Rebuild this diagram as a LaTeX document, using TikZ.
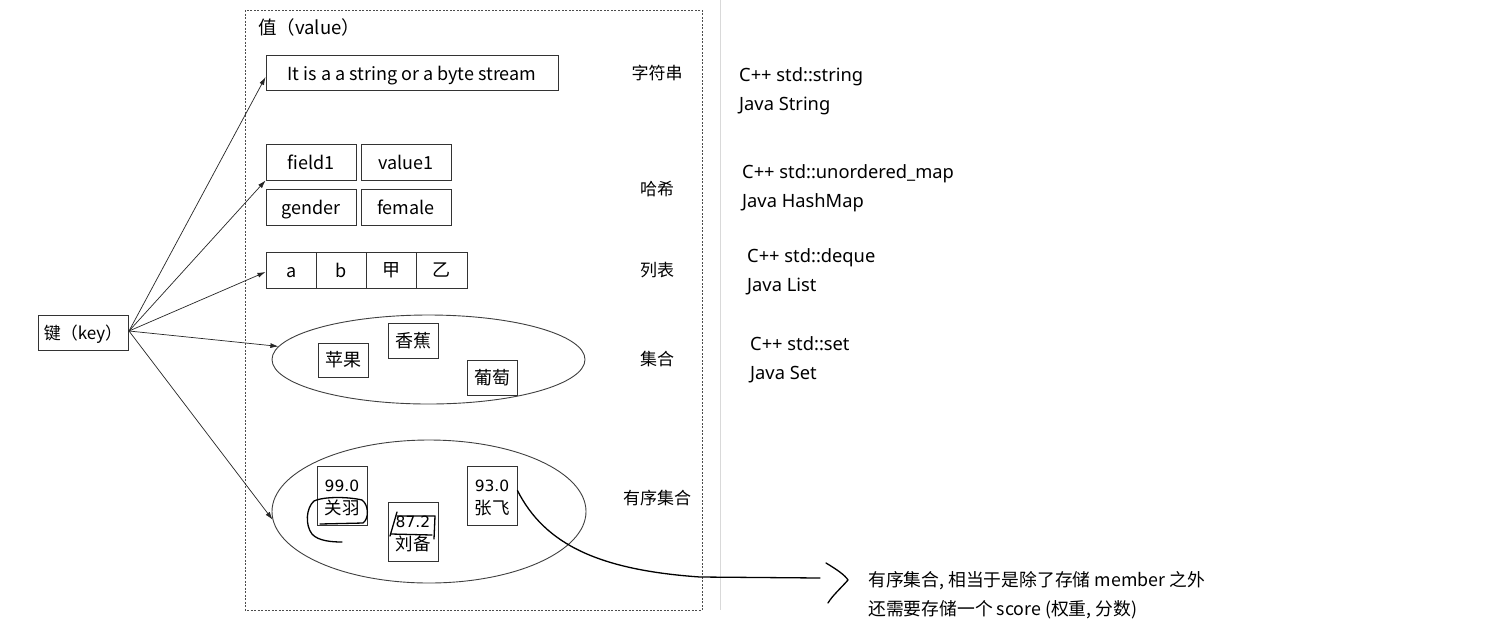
\documentclass[tikz,border=0pt]{standalone}
\usepackage{fontspec}
\setmainfont{Noto Sans CJK SC}
\newfontfamily\rightfont{Noto Sans}
\newfontfamily\numfont{DejaVu Sans}
\usetikzlibrary{arrows.meta,shapes.geometric}
\begin{document}
\begin{tikzpicture}[x=1pt,y=-1pt,
  box/.style={draw=black!80, line width=0.9pt, inner sep=0pt, font=\fontsize{18}{22}\selectfont, align=center, text height=16pt, text depth=0.5pt},
  twobox/.style={draw=black!80, line width=0.9pt, inner sep=0pt, font=\fontsize{17.5}{23}\selectfont, align=center, text height=38.7pt, text depth=0.5pt, minimum width=50pt, minimum height=59pt},
  oval/.style={draw=black!75, line width=0.9pt, ellipse, inner sep=0pt},
  lbl/.style={inner sep=0pt, font=\fontsize{17}{20}\selectfont, text height=13.5pt, text depth=0.5pt},
  rtxt/.style={inner sep=0pt, anchor=west, font=\rightfont\fontsize{18.3}{20}\selectfont, text height=14.2pt, text depth=0.4pt},
  note/.style={inner sep=0pt, anchor=west, font=\fontsize{17.8}{20}\selectfont, text height=13.6pt, text depth=0.4pt},
  arr/.style={-{Latex[length=8pt,width=5pt]}, line width=0.7pt, black!85},
  hand/.style={line width=1.3pt, black, line cap=round, line join=round}]
\useasboundingbox (0,0) rectangle (1501,633);
\fill[white] (0,0) rectangle (1501,633);

% frames
\draw[black!70, line width=0.8pt, dash pattern=on 2pt off 1.5pt] (245,10) rectangle (702,610);
\draw[black!15, line width=0.8pt] (720,0) -- (720,610);

\node[lbl, anchor=west, font=\fontsize{18.5}{20}\selectfont, text height=14pt, text depth=0.4pt] (vlabel) at (258,28) {值（value）};

% key
\node[box, minimum width=90pt, minimum height=35pt, font=\fontsize{17}{20}\selectfont, text height=14pt] (key) at (83,332.5) {键（key）};
\coordinate (k) at (129,331);

% string
\node[box, minimum width=292pt, minimum height=35pt] (str) at (412,72.5) {It is a a string or a byte stream};
\node[lbl] (lstr) at (657,73) {字符串};

% hash
\node[box, minimum width=90pt, minimum height=36pt] (f1) at (311,162) {field1};
\node[box, minimum width=90pt, minimum height=36pt] (v1) at (406,162) {value1};
\node[box, minimum width=90pt, minimum height=36pt] (g) at (311,207) {gender};
\node[box, minimum width=90pt, minimum height=36pt] (fe) at (406,207) {female};
\node[lbl] (lhash) at (657,189) {哈希};

% list
\node[box, minimum width=50.25pt, minimum height=36pt] (la) at (291.1,270) {a};
\node[box, minimum width=50.25pt, minimum height=36pt] (lb) at (341.4,270) {b};
\node[box, minimum width=50.25pt, minimum height=36pt, text height=14pt] (lc) at (391.6,270) {甲};
\node[box, minimum width=50.25pt, minimum height=36pt, text height=14pt] (ld) at (441.9,270) {乙};
\node[lbl] (llist) at (657,270) {列表};

% set
\node[oval, minimum width=313pt, minimum height=89pt] (set) at (428.5,359.5) {};
\node[box, minimum width=50pt, minimum height=34pt, text height=14pt] (s1) at (343,360) {苹果};
\node[box, minimum width=50pt, minimum height=35pt, text height=14pt] (s2) at (413,340.5) {香蕉};
\node[box, minimum width=50pt, minimum height=35pt, text height=14pt] (s3) at (492,377.5) {葡萄};
\node[lbl] (lset) at (657,359) {集合};

% sorted set
\node[oval, minimum width=314pt, minimum height=143pt] (zset) at (429,511.5) {};
\node[twobox] (gy) at (342,495.5) {{\numfont\fontsize{15.5}{23}\selectfont 99.0}\\关羽};
\node[twobox] (lbei) at (413,531.5) {{\numfont\fontsize{15.5}{23}\selectfont 87.2}\\刘备};
\node[twobox] (zf) at (492,495.5) {{\numfont\fontsize{15.5}{23}\selectfont 93.0}\\张飞};
\node[lbl] (lzset) at (657,498) {有序集合};

% arrows
\draw[arr] (k) -- ([yshift=-4.5pt]str.west);
\draw[arr] (k) -- (f1.south west);
\draw[arr] (k) -- ([yshift=-2pt]la.west);
\draw[arr] (k) -- (set.175);
\draw[arr] (k) -- (zset.183);

% right side texts
\node[rtxt] (c1) at (739,75) {C++ std::string};
\node[rtxt] (j1) at (739,104) {Java String};
\node[rtxt] (c2) at (742,172) {C++ std::unordered\_map};
\node[rtxt] (j2) at (742,201) {Java HashMap};
\node[rtxt] (c3) at (747,256) {C++ std::deque};
\node[rtxt] (j3) at (747,285) {Java List};
\node[rtxt] (c4) at (750,344) {C++ std::set};
\node[rtxt] (j4) at (750,373) {Java Set};

% note
\node[note] (n1) at (868,580) {有序集合, 相当于是除了存储 member 之外};
\node[note] (n2) at (868,609) {还需要存储一个 score (权重, 分数)};

% hand-drawn marks
\draw[hand] (320,524) -- (363,523) .. controls (369,519) and (369,505) .. (362,500)
  .. controls (350,497) and (325,496) .. (314,501)
  .. controls (306,508) and (305,525) .. (312,534)
  .. controls (318,541) and (332,542) .. (342,542);
\draw[hand] (397,512) -- (390,536);
\draw[hand] (397,516) -- (435,516) -- (434,539);
\draw[hand] (391,534) -- (432,535);
\coordinate (cend) at (820,578);
\draw[hand] ([yshift=5pt]zf.east) .. controls (545,545) and (600,570) .. (700,577) -- (cend);
\coordinate (brk) at (848,580);
\draw[hand] (826,563) .. controls (836,569) and (845,575) .. (brk)
  .. controls (841,588) and (832,596) .. (828,603);
\end{tikzpicture}
\end{document}
